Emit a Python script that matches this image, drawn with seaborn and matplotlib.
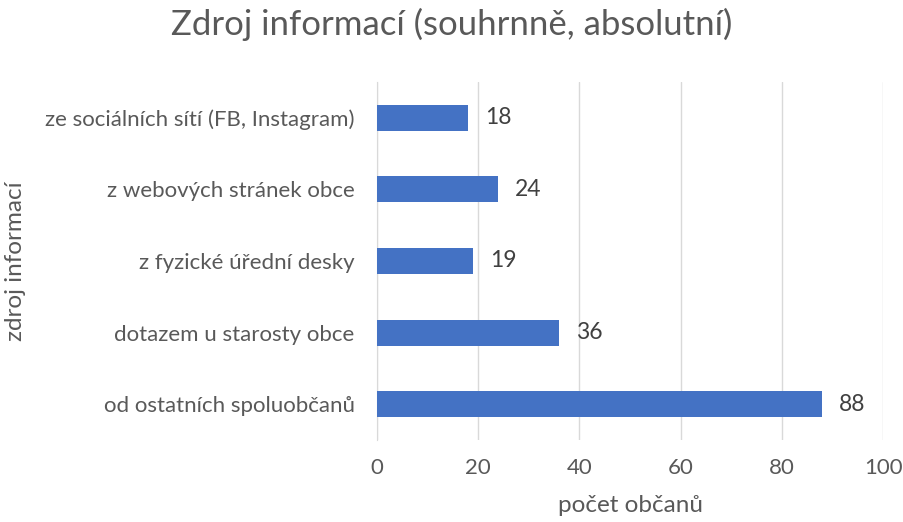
import matplotlib.pyplot as plt
import seaborn as sns
import pandas as pd

categories = ['ze sociálních sítí (FB, Instagram)', 'z webových stránek obce',
              'z fyzické úřední desky', 'dotazem u starosty obce',
              'od ostatních spoluobčanů']
counts = [18, 24, 19, 36, 88]
xticks = [0, 20, 40, 60, 80, 100]

sns.set_style('white')
plt.rcParams['font.family'] = ['Lato', 'DejaVu Sans']
text_color = '#595959'

df = pd.DataFrame({'zdroj': categories, 'pocet': counts})

fig = plt.figure(figsize=(9.04, 5.22), dpi=100)
ax = fig.add_axes([0.417, 0.157, 0.56, 0.686])
sns.barplot(data=df, y='zdroj', x='pocet', orient='h', color='#4472C4',
            width=0.36, saturation=1, linewidth=0, ax=ax, zorder=3)

for i, v in enumerate(counts):
    ax.text(v + 3.3, i, str(v), va='center', ha='left', fontsize=16.5, color='#404040')

ax.set_xlim(0, 100)
ax.set_xticks(xticks)
ax.set_ylim(4.5, -0.5)
ax.grid(axis='x', color='#D9D9D9', linewidth=1, zorder=0)
for s in ['top', 'right', 'bottom']:
    ax.spines[s].set_visible(False)
ax.spines['left'].set_color('#D9D9D9')
ax.tick_params(axis='y', length=0, labelsize=16, labelcolor=text_color, pad=16)
ax.tick_params(axis='x', length=0, labelsize=16, labelcolor=text_color, pad=13)
ax.set_xlabel('počet občanů', fontsize=17.5, color=text_color, labelpad=12)
ax.set_ylabel('zdroj informací', fontsize=17.5, color=text_color, labelpad=14)
fig.suptitle('Zdroj informací (souhrnně, absolutní)', fontsize=25, color=text_color, y=0.985)

fig.savefig('out.png', dpi=100)
